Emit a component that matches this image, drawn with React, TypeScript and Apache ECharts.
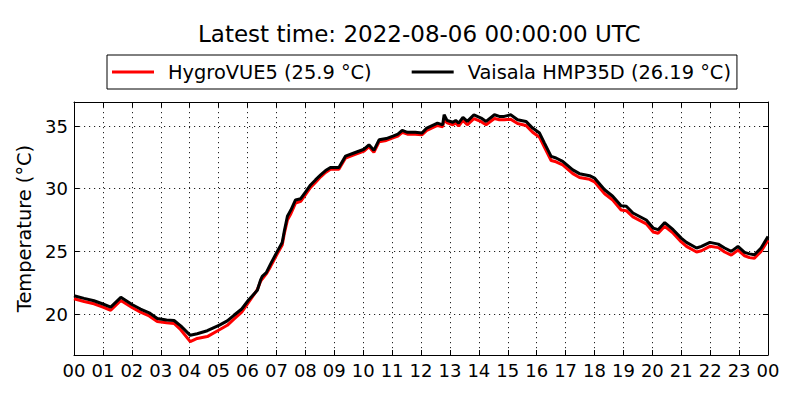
import React, { useEffect, useRef } from "react";
import * as echarts from "echarts";

const hours = [
  0.0, 0.35, 0.69, 1.0, 1.27, 1.62, 2.02, 2.3, 2.6, 2.88, 3.2, 3.46, 3.69, 4.02, 4.26, 4.61,
  5.03, 5.3, 5.53, 5.8, 6.03, 6.34, 6.45, 6.51, 6.65, 6.8, 7.03, 7.2, 7.28, 7.38, 7.5, 7.66,
  7.84, 8.03, 8.18, 8.35, 8.53, 8.7, 8.87, 9.16, 9.39, 9.68, 10.03, 10.2, 10.37, 10.55, 10.8,
  11.03, 11.2, 11.35, 11.53, 11.8, 12.03, 12.2, 12.57, 12.75, 12.8, 12.9, 13.1, 13.2, 13.3,
  13.45, 13.6, 13.83, 14.08, 14.25, 14.54, 14.71, 14.88, 15.1, 15.34, 15.63, 15.86, 16.1,
  16.27, 16.5, 16.67, 16.9, 17.25, 17.48, 17.83, 18.0, 18.35, 18.63, 18.92, 19.1, 19.33,
  19.79, 20.03, 20.2, 20.43, 20.72, 21.0, 21.18, 21.53, 21.7, 21.99, 22.28, 22.5, 22.73,
  22.96, 23.19, 23.36, 23.53, 23.76, 24.0,
];

const hygroVUE5 = [
  21.22, 21.0, 20.82, 20.55, 20.3, 21.08, 20.5, 20.15, 19.85, 19.4, 19.3, 19.25, 18.75, 17.8,
  18.05, 18.2, 18.75, 19.1, 19.6, 20.15, 20.9, 21.95, 22.6, 22.8, 23.2, 23.8, 24.8, 25.5, 26.5,
  27.5, 28.0, 28.85, 29.0, 29.6, 30.1, 30.5, 30.95, 31.3, 31.55, 31.55, 32.45, 32.7, 33.0,
  33.35, 32.9, 33.75, 33.85, 34.05, 34.2, 34.5, 34.35, 34.35, 34.3, 34.65, 35.05, 34.95, 35.6,
  35.25, 35.1, 35.25, 35.0, 35.45, 35.1, 35.6, 35.35, 35.1, 35.6, 35.5, 35.5, 35.55, 35.2,
  35.05, 34.5, 34.1, 33.3, 32.25, 32.15, 31.9, 31.2, 30.9, 30.75, 30.55, 29.6, 29.1, 28.3,
  28.25, 27.75, 27.2, 26.55, 26.45, 27.0, 26.45, 25.75, 25.4, 24.95, 25.05, 25.4, 25.3, 24.95,
  24.7, 25.1, 24.65, 24.5, 24.45, 25.0, 25.9,
];

const vaisalaHMP35D = [
  21.46, 21.25, 21.06, 20.8, 20.55, 21.33, 20.74, 20.4, 20.1, 19.65, 19.52, 19.48, 19.05, 18.3,
  18.43, 18.67, 19.12, 19.45, 19.9, 20.4, 21.1, 21.9, 22.7, 23.0, 23.3, 24.0, 25.0, 25.7, 26.7,
  27.8, 28.3, 29.1, 29.2, 29.8, 30.3, 30.7, 31.1, 31.45, 31.7, 31.7, 32.6, 32.85, 33.15, 33.5,
  33.06, 33.9, 34.0, 34.2, 34.35, 34.65, 34.5, 34.5, 34.44, 34.84, 35.24, 35.1, 35.9, 35.45,
  35.3, 35.45, 35.24, 35.7, 35.37, 35.9, 35.64, 35.37, 35.9, 35.77, 35.77, 35.9, 35.5, 35.37,
  34.84, 34.44, 33.64, 32.58, 32.45, 32.18, 31.5, 31.2, 31.04, 30.85, 29.92, 29.4, 28.64, 28.6,
  28.06, 27.5, 26.86, 26.73, 27.3, 26.73, 26.06, 25.72, 25.27, 25.4, 25.72, 25.58, 25.27, 25.0,
  25.4, 24.92, 24.8, 24.73, 25.27, 26.19,
];

const seriesNames = ["HygroVUE5 (25.9 °C)", "Vaisala HMP35D (26.19 °C)"];
const titleText = "Latest time: 2022-08-06 00:00:00 UTC";
const yAxisName = "Temperature (°C)";

const FONT = "DejaVu Sans";

export default function App() {
  const ref = useRef<HTMLDivElement>(null);
  useEffect(() => {
    if (!ref.current) return;
    const chart = echarts.init(ref.current, null, { renderer: "svg" });
    const fmtHour = (v: number) => String(Math.round(v) % 24).padStart(2, "0");
    const tickCommon = { show: true, inside: true, length: 5, lineStyle: { color: "#000", width: 1 } };
    const lineCommon = { show: true, onZero: false, lineStyle: { color: "#000", width: 1 } };
    const splitCommon = { show: true, lineStyle: { color: "#222", width: 1, type: [1.2, 3.8] as any } };
    chart.setOption({
      animation: false,
      backgroundColor: "#fff",
      textStyle: { fontFamily: FONT },
      title: {
        text: titleText,
        left: 198,
        top: 22,
        padding: 0,
        textStyle: { fontFamily: FONT, fontSize: 23, fontWeight: "normal", color: "#000" },
      },
      legend: {
        left: 107,
        top: 55,
        padding: [5, 6, 5, 5],
        itemWidth: 42,
        itemHeight: 3,
        itemGap: 40,
        icon: "rect",
        borderColor: "#000",
        borderWidth: 1,
        borderRadius: 0,
        backgroundColor: "#fff",
        textStyle: { fontFamily: FONT, fontSize: 19.4, color: "#000", padding: [0, 0, 0, 9], lineHeight: 24 },
        data: seriesNames,
      },
      grid: { left: 74, right: 32, top: 102, bottom: 45, containLabel: false },
      xAxis: [
        {
          type: "value",
          min: 0,
          max: 24,
          interval: 1,
          axisLine: lineCommon,
          axisTick: tickCommon,
          splitLine: splitCommon,
          axisLabel: { formatter: fmtHour, fontFamily: FONT, fontSize: 18, color: "#000", margin: 6 },
        },
        {
          type: "value",
          position: "top",
          min: 0,
          max: 24,
          interval: 1,
          axisLine: lineCommon,
          axisTick: tickCommon,
          splitLine: { show: false },
          axisLabel: { show: false },
        },
      ],
      yAxis: [
        {
          type: "value",
          min: 16.73,
          max: 36.92,
          splitNumber: 4,
          axisLine: lineCommon,
          axisTick: tickCommon,
          splitLine: splitCommon,
          name: yAxisName,
          nameLocation: "middle",
          nameGap: 27,
          nameTextStyle: { fontFamily: FONT, fontSize: 19.4, color: "#000" },
          axisLabel: {
            fontFamily: FONT,
            fontSize: 18,
            color: "#000",
            margin: 6,
            showMinLabel: false,
            showMaxLabel: false,
            formatter: (v: number) => (Math.abs(v % 5) < 1e-6 ? String(v) : ""),
          },
        },
        {
          type: "value",
          position: "right",
          min: 16.73,
          max: 36.92,
          splitNumber: 4,
          axisLine: lineCommon,
          axisTick: tickCommon,
          splitLine: { show: false },
          axisLabel: { show: false },
        },
      ],
      series: [
        {
          name: seriesNames[0],
          type: "line",
          data: hours.map((h, i) => [h, hygroVUE5[i]]),
          showSymbol: false,
          symbol: "none",
          lineStyle: { color: "#ff0000", width: 3 },
          itemStyle: { color: "#ff0000" },
          z: 2,
        },
        {
          name: seriesNames[1],
          type: "line",
          data: hours.map((h, i) => [h, vaisalaHMP35D[i]]),
          showSymbol: false,
          symbol: "none",
          lineStyle: { color: "#000000", width: 3 },
          itemStyle: { color: "#000000" },
          z: 3,
        },
      ],
    });
    return () => chart.dispose();
  }, []);
  return <div ref={ref} style={{ width: 800, height: 400, margin: -8 }} />;
}
